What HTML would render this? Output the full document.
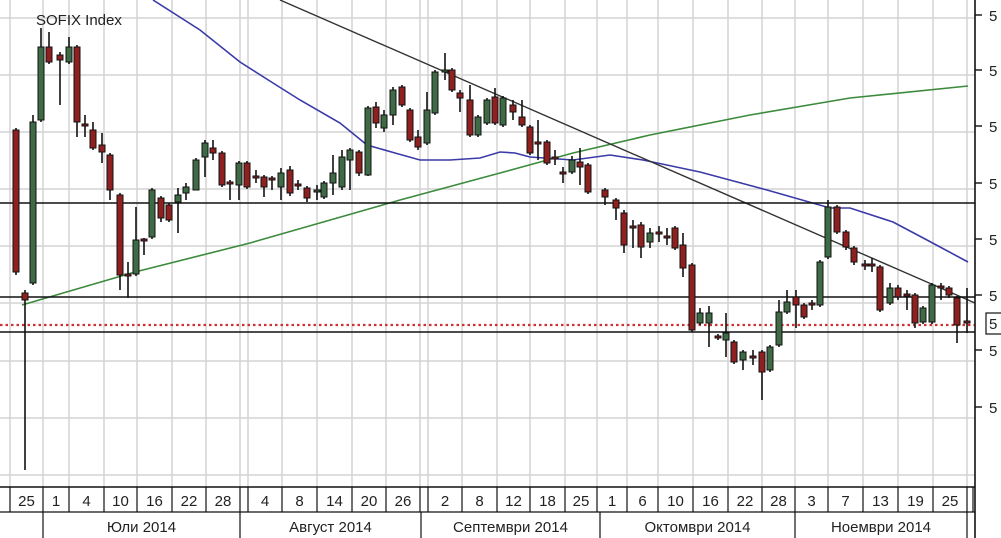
<!DOCTYPE html>
<html><head><meta charset="utf-8"><style>
html,body{margin:0;padding:0;background:#fff;width:1001px;height:538px;overflow:hidden}
svg{display:block;font-family:"Liberation Sans",sans-serif}
</style></head><body>
<svg id="s" width="1001" height="538" viewBox="0 0 1001 538" xmlns="http://www.w3.org/2000/svg">
<rect width="1001" height="538" fill="#fff"/>
<g id="grid" stroke="#d4d4d4" stroke-width="1.5"></g>
<polyline fill="none" stroke="#3c8a3c" stroke-width="1.6" points="22,305 135,272 250,243 400,200 500,173 573,153 650,135 750,115 850,98 968,86"/>
<polyline fill="none" stroke="#3a3aa8" stroke-width="1.6" points="153,0 200,30 240,62 273,83 300,100 340,123 367,145 395,153 420,160 450,160 480,158 500,152 515,153 530,157 573,160 610,155 643,160 700,172 767,190 830,208 850,208 893,222 927,240 968,262"/>
<line x1="280" y1="0" x2="975" y2="303" stroke="#333" stroke-width="1.4"/>
<line x1="0" y1="203" x2="975" y2="203" stroke="#111" stroke-width="1.6"/>
<line x1="0" y1="297" x2="975" y2="297" stroke="#111" stroke-width="1.6"/>
<line x1="0" y1="332" x2="975" y2="332" stroke="#111" stroke-width="1.6"/>
<line x1="0" y1="325" x2="975" y2="325" stroke="#d03030" stroke-width="2.2" stroke-dasharray="2.5,3"/>
<g id="c"></g>
<text x="36" y="25" font-size="15" fill="#222">SOFIX Index</text>
<line x1="975" y1="0" x2="975" y2="538" stroke="#111" stroke-width="1.6"/>
<line x1="0" y1="487" x2="975" y2="487" stroke="#111" stroke-width="1.6"/>
<line x1="0" y1="512" x2="975" y2="512" stroke="#111" stroke-width="1.2"/>
<g id="ax" font-size="15" fill="#222"></g>
<rect x="986" y="313" width="16" height="21" fill="#fff" stroke="#111" stroke-width="1.2"/>
<text x="989" y="329" font-size="15" fill="#222">5</text>
</svg>
<script>
var NS="http://www.w3.org/2000/svg";
function el(p,t,a,txt){var e=document.createElementNS(NS,t);for(var k in a)e.setAttribute(k,a[k]);if(txt!==undefined)e.textContent=txt;p.appendChild(e);return e;}
var g=document.getElementById('grid');
[18,75,132,189,246,303,361,418,475].forEach(function(y){el(g,'line',{x1:0,y1:y,x2:975,y2:y});});
var seps=[10,43,69,104,137,172,206,240,248,282,317,352,386,420,428,462,497,530,565,597,627,658,693,728,762,795,828,863,898,933,967];
seps.forEach(function(x){el(g,'line',{x1:x,y1:0,x2:x,y2:487});});
var ax=document.getElementById('ax');
[15,70,126,183,239,295,350,407].forEach(function(y){el(ax,'line',{x1:975,y1:y,x2:982,y2:y,stroke:'#111','stroke-width':1.4});el(ax,'text',{x:989,y:y+6},'5');});
seps.concat([973]).forEach(function(x){el(ax,'line',{x1:x,y1:487,x2:x,y2:512,stroke:'#111','stroke-width':1.2});});
var days=[[10,43,'25'],[43,69,'1'],[69,104,'4'],[104,137,'10'],[137,172,'16'],[172,206,'22'],[206,240,'28'],[248,282,'4'],[282,317,'8'],[317,352,'14'],[352,386,'20'],[386,420,'26'],[428,462,'2'],[462,497,'8'],[497,530,'12'],[530,565,'18'],[565,597,'25'],[597,627,'1'],[627,658,'6'],[658,693,'10'],[693,728,'16'],[728,762,'22'],[762,795,'28'],[795,828,'3'],[828,863,'7'],[863,898,'13'],[898,933,'19'],[933,967,'25']];
days.forEach(function(d){el(ax,'text',{x:(d[0]+d[1])/2,y:506,'text-anchor':'middle'},d[2]);});
[43,240,421,600,795,967].forEach(function(x){el(ax,'line',{x1:x,y1:512,x2:x,y2:538,stroke:'#111','stroke-width':1.2});});
[[43,240,'Юли 2014'],[240,421,'Август 2014'],[421,600,'Септември 2014'],[600,795,'Октомври 2014'],[795,967,'Ноември 2014']].forEach(function(m){el(ax,'text',{x:(m[0]+m[1])/2,y:532,'text-anchor':'middle'},m[2]);});
// x, open, close, high, low
var C=[[16,130,272,128,275],[25,293,300,290,470],[33,283,122,115,285],[41,120,47,28,122],[49,47,62,32,64],[60,55,60,52,105],[69,62,47,37,64],[77,47,122,45,137],[85,124,126,115,137],[93,130,148,122,150],[102,145,152,133,163],[110,155,190,153,200],[120,195,275,193,290],[128,274,276,262,298],[136,274,240,207,276],[144,239,241,238,255],[152,237,190,188,239],[161,198,218,196,222],[169,205,220,203,222],[178,202,195,188,233],[186,193,187,183,200],[196,190,160,158,177],[205,157,143,140,177],[213,148,153,140,160],[222,153,185,151,187],[230,182,184,180,200],[239,185,163,161,200],[247,163,187,161,189],[256,176,178,170,183],[264,177,187,175,197],[272,178,180,176,190],[281,187,173,168,200],[290,170,193,166,196],[298,184,186,180,190],[307,188,198,186,202],[317,192,190,185,200],[324,197,183,181,199],[333,183,173,155,195],[342,187,157,150,190],[350,160,150,148,190],[359,152,173,150,176],[368,175,108,106,176],[376,107,123,102,128],[384,128,115,110,132],[393,115,90,87,125],[402,87,105,85,107],[410,110,140,108,142],[418,137,147,130,150],[427,143,110,92,145],[435,113,72,70,115],[445,72,70,53,80],[452,70,90,68,92],[460,93,98,90,112],[470,100,135,85,137],[478,135,117,115,137],[487,123,100,98,125],[495,97,123,88,125],[503,125,98,96,127],[513,105,112,100,120],[522,117,125,100,127],[530,127,153,125,155],[538,142,144,120,160],[547,142,163,140,165],[555,157,159,150,165],[563,172,173,167,183],[572,172,160,156,174],[580,162,167,148,185],[588,165,192,163,194],[605,190,197,188,205],[616,200,208,198,220],[624,213,245,210,253],[633,226,228,220,248],[641,225,247,222,258],[650,242,233,228,248],[659,232,234,226,242],[667,236,238,228,245],[675,228,248,226,250],[683,245,268,233,277],[692,265,330,263,332],[700,323,313,308,325],[709,323,313,306,347],[718,336,338,334,340],[726,340,333,313,357],[734,342,362,340,364],[743,360,352,350,370],[753,356,358,350,365],[762,352,372,350,400],[770,370,347,345,372],[779,345,312,300,347],[787,312,302,290,314],[796,297,305,290,328],[804,305,317,303,319],[812,303,305,300,310],[820,305,262,260,307],[828,257,207,200,259],[837,207,232,205,234],[846,232,247,230,250],[854,248,262,246,265],[865,264,266,260,270],[872,264,266,258,272],[880,267,310,265,312],[890,303,288,283,305],[898,288,297,285,300],[907,294,296,290,310],[915,295,323,293,328],[923,322,308,306,324],[932,322,285,283,324],[941,286,288,283,300],[949,288,295,286,298],[957,298,325,296,343],[967,321,323,288,333]];
var cg=document.getElementById('c');
C.forEach(function(c){var x=c[0],o=c[1],cl=c[2],h=c[3],l=c[4];
 el(cg,'line',{x1:x,y1:h,x2:x,y2:l,stroke:'#111','stroke-width':1.6});
 var top=Math.min(o,cl),bh=Math.max(Math.abs(o-cl),2);
 var fill=cl<o?'#3e6a45':'#8f2020';
 el(cg,'rect',{x:x-3,y:top,width:6,height:bh,fill:fill,stroke:'#111','stroke-width':1});
});
</script>
</body></html>
